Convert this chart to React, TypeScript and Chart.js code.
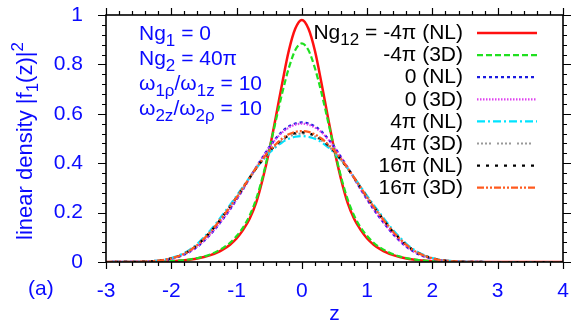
import React, { useEffect, useRef } from "react";
import { Chart, registerables } from "chart.js";

Chart.register(...registerables);

// z grid (x values)
const Z = [-3, -2.5, -2.4, -2.3, -2.2, -2.1, -2, -1.9, -1.8, -1.7, -1.6, -1.5, -1.4, -1.3, -1.2, -1.1, -1, -0.9, -0.8, -0.7, -0.6, -0.5, -0.4, -0.3, -0.2, -0.1, 0, 0.1, 0.2, 0.3, 0.4, 0.5, 0.6, 0.7, 0.8, 0.9, 1, 1.1, 1.2, 1.3, 1.4, 1.5, 1.6, 1.7, 1.8, 1.9, 2, 2.1, 2.2, 2.3, 2.4, 2.5, 3, 4];

const M4PI_NL = [0, 0, 0, 0.001, 0.001, 0.002, 0.003, 0.005, 0.007, 0.01, 0.014, 0.02, 0.028, 0.038, 0.052, 0.07, 0.095, 0.13, 0.175, 0.24, 0.335, 0.45, 0.585, 0.725, 0.855, 0.945, 0.98, 0.945, 0.855, 0.725, 0.585, 0.45, 0.335, 0.24, 0.175, 0.13, 0.095, 0.07, 0.052, 0.038, 0.028, 0.02, 0.014, 0.01, 0.007, 0.005, 0.003, 0.002, 0.001, 0.001, 0, 0, 0, 0];
const M4PI_3D = [0, 0, 0.001, 0.001, 0.002, 0.002, 0.004, 0.005, 0.008, 0.011, 0.016, 0.022, 0.031, 0.043, 0.058, 0.078, 0.105, 0.14, 0.188, 0.255, 0.345, 0.455, 0.57, 0.685, 0.785, 0.858, 0.885, 0.858, 0.785, 0.685, 0.57, 0.455, 0.345, 0.255, 0.188, 0.14, 0.105, 0.078, 0.058, 0.043, 0.031, 0.022, 0.016, 0.011, 0.008, 0.005, 0.004, 0.002, 0.002, 0.001, 0.001, 0, 0, 0];
const ZERO_NL = [0, 0.001, 0.002, 0.003, 0.005, 0.008, 0.013, 0.02, 0.03, 0.044, 0.062, 0.085, 0.112, 0.143, 0.177, 0.213, 0.253, 0.295, 0.34, 0.383, 0.425, 0.465, 0.5, 0.529, 0.549, 0.561, 0.565, 0.561, 0.549, 0.529, 0.5, 0.465, 0.425, 0.383, 0.34, 0.295, 0.253, 0.213, 0.177, 0.143, 0.112, 0.085, 0.062, 0.044, 0.03, 0.02, 0.013, 0.008, 0.005, 0.003, 0.002, 0.001, 0, 0];
const ZERO_3D = [0, 0.001, 0.002, 0.003, 0.005, 0.008, 0.013, 0.021, 0.031, 0.045, 0.063, 0.086, 0.113, 0.144, 0.178, 0.214, 0.254, 0.295, 0.339, 0.382, 0.424, 0.463, 0.497, 0.525, 0.544, 0.556, 0.56, 0.556, 0.544, 0.525, 0.497, 0.463, 0.424, 0.382, 0.339, 0.295, 0.254, 0.214, 0.178, 0.144, 0.113, 0.086, 0.063, 0.045, 0.031, 0.021, 0.013, 0.008, 0.005, 0.003, 0.002, 0.001, 0, 0];
const P4PI_NL = [0, 0.001, 0.002, 0.004, 0.006, 0.01, 0.016, 0.025, 0.037, 0.053, 0.074, 0.1, 0.129, 0.161, 0.196, 0.231, 0.268, 0.305, 0.343, 0.379, 0.412, 0.441, 0.465, 0.485, 0.499, 0.507, 0.51, 0.507, 0.499, 0.485, 0.465, 0.441, 0.412, 0.379, 0.343, 0.305, 0.268, 0.231, 0.196, 0.161, 0.129, 0.1, 0.074, 0.053, 0.037, 0.025, 0.016, 0.01, 0.006, 0.004, 0.002, 0.001, 0, 0];
const P4PI_3D = [0, 0.001, 0.002, 0.003, 0.006, 0.009, 0.015, 0.023, 0.034, 0.05, 0.07, 0.095, 0.123, 0.155, 0.19, 0.225, 0.262, 0.3, 0.34, 0.378, 0.413, 0.445, 0.47, 0.492, 0.508, 0.517, 0.52, 0.517, 0.508, 0.492, 0.47, 0.445, 0.413, 0.378, 0.34, 0.3, 0.262, 0.225, 0.19, 0.155, 0.123, 0.095, 0.07, 0.05, 0.034, 0.023, 0.015, 0.009, 0.006, 0.003, 0.002, 0.001, 0, 0];
const P16PI_NL = [0, 0.001, 0.002, 0.003, 0.006, 0.009, 0.015, 0.023, 0.034, 0.049, 0.069, 0.094, 0.122, 0.154, 0.189, 0.224, 0.262, 0.301, 0.341, 0.379, 0.414, 0.447, 0.473, 0.496, 0.512, 0.522, 0.525, 0.522, 0.512, 0.496, 0.473, 0.447, 0.414, 0.379, 0.341, 0.301, 0.262, 0.224, 0.189, 0.154, 0.122, 0.094, 0.069, 0.049, 0.034, 0.023, 0.015, 0.009, 0.006, 0.003, 0.002, 0.001, 0, 0];
const P16PI_3D = [0, 0.001, 0.002, 0.003, 0.006, 0.009, 0.015, 0.023, 0.034, 0.049, 0.069, 0.094, 0.122, 0.154, 0.188, 0.224, 0.262, 0.302, 0.342, 0.381, 0.417, 0.45, 0.477, 0.5, 0.517, 0.527, 0.53, 0.527, 0.517, 0.5, 0.477, 0.45, 0.417, 0.381, 0.342, 0.302, 0.262, 0.224, 0.188, 0.154, 0.122, 0.094, 0.069, 0.049, 0.034, 0.023, 0.015, 0.009, 0.006, 0.003, 0.002, 0.001, 0, 0];

const LEGEND_LABELS = ["-4π (NL)", "-4π (3D)", "0 (NL)", "0 (3D)", "4π (NL)", "4π (3D)", "16π (NL)", "16π (3D)"];
const SERIES_VALUES = [M4PI_NL, M4PI_3D, ZERO_NL, ZERO_3D, P4PI_NL, P4PI_3D, P16PI_NL, P16PI_3D];

const X_TICKS_MIN = -3;
const X_TICKS_MAX = 4;
const Y_TICKS_MIN = 0;
const Y_TICKS_MAX = 1;

const STYLES = [
  { color: "#ff1010", width: 2.5, dash: [] as number[] },
  { color: "#20e020", width: 2.2, dash: [6, 3] },
  { color: "#1a1ae0", width: 2.2, dash: [3, 3] },
  { color: "#e040f0", width: 2.2, dash: [1.5, 1.5] },
  { color: "#00e4ff", width: 2.2, dash: [8, 3, 2, 3] },
  { color: "#999999", width: 2.2, dash: [2, 2, 2, 2, 2, 2, 2, 6] },
  { color: "#000000", width: 2.2, dash: [3, 6] },
  { color: "#ff5a1e", width: 2.2, dash: [7, 2, 2, 2, 2, 2] },
];

const FONT = "'Liberation Sans', Arial, Helvetica, sans-serif";
const BLUE = "#0a0aff";
const W = 581;
const H = 332;
const LEG_Y0 = 33;
const LEG_DY = 22.1;
const LEG_X1 = 477;
const LEG_X2 = 537;

const framePlugin = {
  id: "frame",
  afterDraw(chart: any) {
    const { ctx, chartArea: a, scales } = chart;
    const xs = scales.x;
    const ys = scales.y;
    ctx.save();
    ctx.strokeStyle = "#000";
    ctx.lineWidth = 1.2;
    ctx.beginPath();
    for (let i = 0; i <= (X_TICKS_MAX - X_TICKS_MIN) * 5; i++) {
      const v = X_TICKS_MIN + i * 0.2;
      const px = Math.round(xs.getPixelForValue(v)) + 0.5;
      const len = i % 5 === 0 ? 7 : 4;
      ctx.moveTo(px, a.bottom);
      ctx.lineTo(px, a.bottom + len);
      ctx.moveTo(px, a.top);
      ctx.lineTo(px, a.top - len);
    }
    for (let i = 0; i <= (Y_TICKS_MAX - Y_TICKS_MIN) * 25; i++) {
      const v = Y_TICKS_MIN + i * 0.04;
      const py = Math.round(ys.getPixelForValue(v)) + 0.5;
      const len = i % 5 === 0 ? 8 : 4;
      ctx.moveTo(a.left, py);
      ctx.lineTo(a.left - len, py);
      ctx.moveTo(a.right, py);
      ctx.lineTo(a.right + len, py);
    }
    ctx.stroke();
    ctx.lineWidth = 1.6;
    ctx.strokeRect(a.left, a.top, a.right - a.left, a.bottom - a.top);
    chart.data.datasets.forEach((ds: any, i: number) => {
      const y = LEG_Y0 + i * LEG_DY;
      ctx.beginPath();
      ctx.strokeStyle = ds.borderColor;
      ctx.lineWidth = ds.borderWidth;
      ctx.setLineDash(ds.borderDash || []);
      ctx.moveTo(LEG_X1, y);
      ctx.lineTo(LEG_X2, y);
      ctx.stroke();
    });
    ctx.restore();
  },
};

const txt = (extra: React.CSSProperties): React.CSSProperties => ({
  position: "absolute",
  fontFamily: FONT,
  fontSize: 21,
  lineHeight: "24px",
  whiteSpace: "nowrap",
  ...extra,
});

const Sub = ({ children }: { children: React.ReactNode }) => (
  <span style={{ fontSize: 17, position: "relative", top: 6 }}>{children}</span>
);
const Sup = ({ children }: { children: React.ReactNode }) => (
  <span style={{ fontSize: 17, position: "relative", top: -9 }}>{children}</span>
);

const zeroPad = (s: any) => {
  s.paddingTop = 0;
  s.paddingBottom = 0;
  s.paddingLeft = 0;
  s.paddingRight = 0;
};

export default function App() {
  const ref = useRef<HTMLCanvasElement>(null);
  useEffect(() => {
    const chart = new Chart(ref.current!, {
      type: "line",
      data: {
        datasets: SERIES_VALUES.map((vals, i) => ({
          label: LEGEND_LABELS[i],
          data: Z.map((z, k) => ({ x: z, y: vals[k] })),
          borderColor: STYLES[i].color,
          borderWidth: STYLES[i].width,
          borderDash: STYLES[i].dash,
          pointRadius: 0,
          cubicInterpolationMode: "monotone" as const,
          fill: false,
          order: SERIES_VALUES.length - i,
        })),
      },
      options: {
        responsive: false,
        animation: false,
        events: [],
        layout: { padding: { left: 0, right: 18, top: 15, bottom: 0 } },
        plugins: { legend: { display: false }, tooltip: { enabled: false } },
        scales: {
          x: {
            type: "linear",
            min: X_TICKS_MIN,
            max: X_TICKS_MAX,
            grid: { display: false, drawTicks: false },
            border: { display: false },
            ticks: {
              stepSize: 1,
              color: BLUE,
              font: { family: FONT, size: 21 },
              padding: 17,
              maxRotation: 0,
              autoSkip: false,
            },
            afterFit: (s: any) => {
              s.height = 70;
              zeroPad(s);
            },
          },
          y: {
            type: "linear",
            min: Y_TICKS_MIN,
            max: Y_TICKS_MAX,
            grid: { display: false, drawTicks: false },
            border: { display: false },
            ticks: {
              stepSize: 0.2,
              color: BLUE,
              font: { family: FONT, size: 21 },
              padding: 23,
              callback: (v: any) => String(Math.round(Number(v) * 10) / 10),
            },
            afterFit: (s: any) => {
              s.width = 106;
              zeroPad(s);
            },
          },
        },
      },
      plugins: [framePlugin],
    } as any);
    return () => chart.destroy();
  }, []);

  return (
    <div style={{ position: "absolute", left: 0, top: 0, width: W, height: H, background: "#fff", overflow: "hidden" }}>
      <canvas ref={ref} width={W} height={H} style={{ position: "absolute", left: 0, top: 0 }} />
      <div style={txt({ left: 139, top: 33.3 - 12, color: BLUE })}>
        Ng<Sub>1</Sub> = 0
      </div>
      <div style={txt({ left: 139, top: 57.5 - 12, color: BLUE })}>
        Ng<Sub>2</Sub> = 40π
      </div>
      <div style={txt({ left: 139, top: 83 - 12, color: BLUE })}>
        ω<Sub>1ρ</Sub>/ω<Sub>1z</Sub> = 10
      </div>
      <div style={txt({ left: 139, top: 107.5 - 12, color: BLUE })}>
        ω<Sub>2z</Sub>/ω<Sub>2ρ</Sub> = 10
      </div>
      {LEGEND_LABELS.map((l, i) => (
        <div key={i} style={txt({ right: W - 463, top: 32.2 + i * LEG_DY - 12, color: "#000", textAlign: "right" })}>
          {i === 0 ? (
            <>
              Ng<Sub>12</Sub> = {l}
            </>
          ) : (
            l
          )}
        </div>
      ))}
      <div
        style={txt({
          left: 26,
          top: 141,
          color: BLUE,
          fontSize: 22,
          transform: "translate(-50%, -50%) rotate(-90deg)",
        })}
      >
        linear density |f<Sub>1</Sub>(z)|<Sup>2</Sup>
      </div>
      <div style={txt({ left: 334.5, top: 313 - 12, color: BLUE, transform: "translateX(-50%)" })}>z</div>
      <div style={txt({ left: 28, top: 288 - 12, color: BLUE })}>(a)</div>
    </div>
  );
}
